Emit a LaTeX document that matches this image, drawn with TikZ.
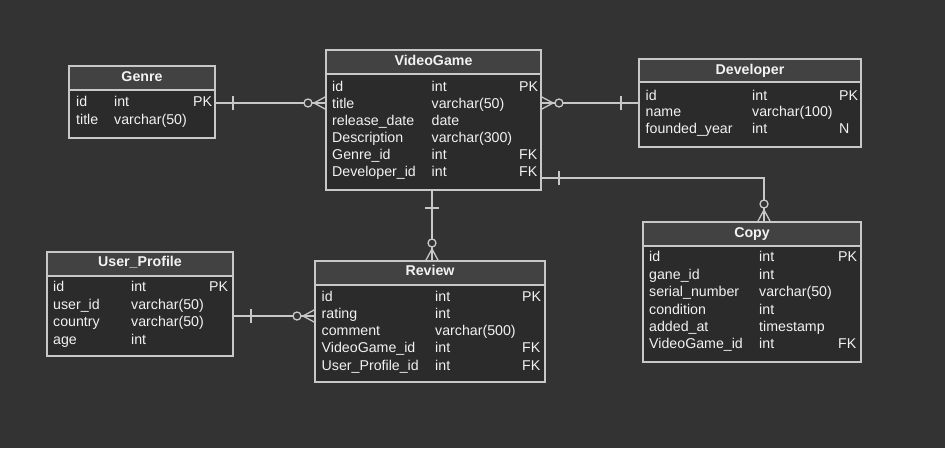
\documentclass[tikz,border=0pt]{standalone}
\usepackage{fontspec}
\setmainfont{Liberation Sans}
\usetikzlibrary{calc}
\definecolor{bgc}{HTML}{333333}
\definecolor{headc}{HTML}{424242}
\definecolor{bodyc}{HTML}{2B2B2B}
\definecolor{linec}{HTML}{C8C8C8}
\definecolor{txtc}{HTML}{F2F2F2}
\tikzset{
  tbody/.style={draw=linec, line width=1.4pt, fill=bodyc, rectangle, inner sep=0pt, outer sep=0pt, anchor=north west},
  thead/.style={draw=linec, line width=1.4pt, fill=headc, rectangle, inner sep=0pt, outer sep=0pt, anchor=north west, minimum height=24pt},
  htxt/.style={text=txtc, font=\fontsize{14.2}{16}\selectfont\bfseries, inner sep=0pt, anchor=base},
  ftxt/.style={text=txtc, font=\fontsize{14.2}{16}\selectfont, inner sep=0pt, anchor=base west},
  conn/.style={draw=linec, line width=1.3pt},
  pics/crowfoot/.style={code={
    \draw[conn] (0,6.5) -- (12,0) -- (0,-6.5);
    \draw[conn] (0,0) -- (14,0);
    \draw[conn, fill=bgc] (18,0) circle (4pt);
  }},
  pics/onebar/.style={code={\draw[conn] (18,-7) -- (18,7);}},
}
\begin{document}
\begin{tikzpicture}[x=1pt,y=-1pt]
\fill[bgc] (0,0) rectangle (945,448);
\useasboundingbox (0,0) rectangle (945,448);

% Genre
\node[tbody, minimum width=146pt, minimum height=72pt] (genre) at (69,66) {};
\node[thead, minimum width=146pt] (genreh) at (69,66) {};
\node[htxt] (genret) at (142,81) {Genre};
\node[ftxt] (g1a) at (76,106.5) {id};
\node[ftxt] (g1b) at (114,106.5) {int};
\node[ftxt] (g1c) at (193,106.5) {PK};
\node[ftxt] (g2a) at (76,124) {title};
\node[ftxt] (g2b) at (114,124) {varchar(50)};

% VideoGame
\node[tbody, minimum width=215pt, minimum height=140pt] (vg) at (326,50) {};
\node[thead, minimum width=215pt] (vgh) at (326,50) {};
\node[htxt] (vgt) at (433.5,65.5) {VideoGame};
\node[ftxt] (v1a) at (332,91.5) {id};
\node[ftxt] (v1b) at (431.5,91.5) {int};
\node[ftxt] (v1c) at (519,91.5) {PK};
\node[ftxt] (v2a) at (332,108.5) {title};
\node[ftxt] (v2b) at (431.5,108.5) {varchar(50)};
\node[ftxt] (v3a) at (332,125.5) {release\_date};
\node[ftxt] (v3b) at (431.5,125.5) {date};
\node[ftxt] (v4a) at (332,142.5) {Description};
\node[ftxt] (v4b) at (431.5,142.5) {varchar(300)};
\node[ftxt] (v5a) at (332,159.5) {Genre\_id};
\node[ftxt] (v5b) at (431.5,159.5) {int};
\node[ftxt] (v5c) at (519,159.5) {FK};
\node[ftxt] (v6a) at (332,176.5) {Developer\_id};
\node[ftxt] (v6b) at (431.5,176.5) {int};
\node[ftxt] (v6c) at (519,176.5) {FK};

% Developer
\node[tbody, minimum width=222pt, minimum height=88pt] (dev) at (639,59) {};
\node[thead, minimum width=222pt, minimum height=23pt] (devh) at (639,59) {};
\node[htxt] (devt) at (750,74) {Developer};
\node[ftxt] (d1a) at (645.5,100) {id};
\node[ftxt] (d1b) at (752,100) {int};
\node[ftxt] (d1c) at (839,100) {PK};
\node[ftxt] (d2a) at (645.5,116.8) {name};
\node[ftxt] (d2b) at (752,116.8) {varchar(100)};
\node[ftxt] (d3a) at (645.5,133.5) {founded\_year};
\node[ftxt] (d3b) at (752,133.5) {int};
\node[ftxt] (d3c) at (839,133.5) {N};

% Copy
\node[tbody, minimum width=218pt, minimum height=140pt] (copy) at (643,222) {};
\node[thead, minimum width=218pt] (copyh) at (643,222) {};
\node[htxt] (copyt) at (752,237) {Copy};
\node[ftxt] (c1a) at (649,261.7) {id};
\node[ftxt] (c1b) at (759,261.7) {int};
\node[ftxt] (c1c) at (838,261.7) {PK};
\node[ftxt] (c2a) at (649,279) {gane\_id};
\node[ftxt] (c2b) at (759,279) {int};
\node[ftxt] (c3a) at (649,296.5) {serial\_number};
\node[ftxt] (c3b) at (759,296.5) {varchar(50)};
\node[ftxt] (c4a) at (649,314) {condition};
\node[ftxt] (c4b) at (759,314) {int};
\node[ftxt] (c5a) at (649,331.5) {added\_at};
\node[ftxt] (c5b) at (759,331.5) {timestamp};
\node[ftxt] (c6a) at (649,348.5) {VideoGame\_id};
\node[ftxt] (c6b) at (759,348.5) {int};
\node[ftxt] (c6c) at (838,348.5) {FK};

% User_Profile
\node[tbody, minimum width=186pt, minimum height=104pt] (up) at (47,252) {};
\node[thead, minimum width=186pt] (uph) at (47,252) {};
\node[htxt] (upt) at (140,266.5) {User\_Profile};
\node[ftxt] (u1a) at (53,291.5) {id};
\node[ftxt] (u1b) at (131,291.5) {int};
\node[ftxt] (u1c) at (209,291.5) {PK};
\node[ftxt] (u2a) at (53,309) {user\_id};
\node[ftxt] (u2b) at (131,309) {varchar(50)};
\node[ftxt] (u3a) at (53,326.5) {country};
\node[ftxt] (u3b) at (131,326.5) {varchar(50)};
\node[ftxt] (u4a) at (53,344) {age};
\node[ftxt] (u4b) at (131,344) {int};

% Review
\node[tbody, minimum width=230pt, minimum height=121pt] (review) at (315,261) {};
\node[thead, minimum width=230pt] (reviewh) at (315,261) {};
\node[htxt] (reviewt) at (430,275.5) {Review};
\node[ftxt] (r1a) at (321.5,301) {id};
\node[ftxt] (r1b) at (435,301) {int};
\node[ftxt] (r1c) at (522,301) {PK};
\node[ftxt] (r2a) at (321.5,318.3) {rating};
\node[ftxt] (r2b) at (435,318.3) {int};
\node[ftxt] (r3a) at (321.5,335.6) {comment};
\node[ftxt] (r3b) at (435,335.6) {varchar(500)};
\node[ftxt] (r4a) at (321.5,352.8) {VideoGame\_id};
\node[ftxt] (r4b) at (435,352.8) {int};
\node[ftxt] (r4c) at (522,352.8) {FK};
\node[ftxt] (r5a) at (321.5,370) {User\_Profile\_id};
\node[ftxt] (r5b) at (435,370) {int};
\node[ftxt] (r5c) at (522,370) {FK};

% Connectors
\coordinate (row1) at (0,103);
\draw[conn] (genre.east |- row1) -- (vg.west |- row1);
\pic at (genre.east |- row1) {onebar};
\pic[rotate=180] at (vg.west |- row1) {crowfoot};

\draw[conn] (vg.east |- row1) -- (dev.west |- row1);
\pic at (vg.east |- row1) {crowfoot};
\pic[rotate=180] at (dev.west |- row1) {onebar};

\coordinate (col3) at (432,0);
\draw[conn] (vg.south -| col3) -- (review.north -| col3);
\pic[rotate=-90] at (vg.south -| col3) {onebar};
\pic[rotate=90] at (review.north -| col3) {crowfoot};

\coordinate (bend) at (764,178);
\draw[conn] (vg.east |- bend) -- (bend) -- (copy.north -| bend);
\pic at (vg.east |- bend) {onebar};
\pic[rotate=90] at (copy.north -| bend) {crowfoot};

\coordinate (row5) at (0,316);
\draw[conn] (up.east |- row5) -- (review.west |- row5);
\pic at (up.east |- row5) {onebar};
\pic[rotate=180] at (review.west |- row5) {crowfoot};
\end{tikzpicture}
\end{document}
